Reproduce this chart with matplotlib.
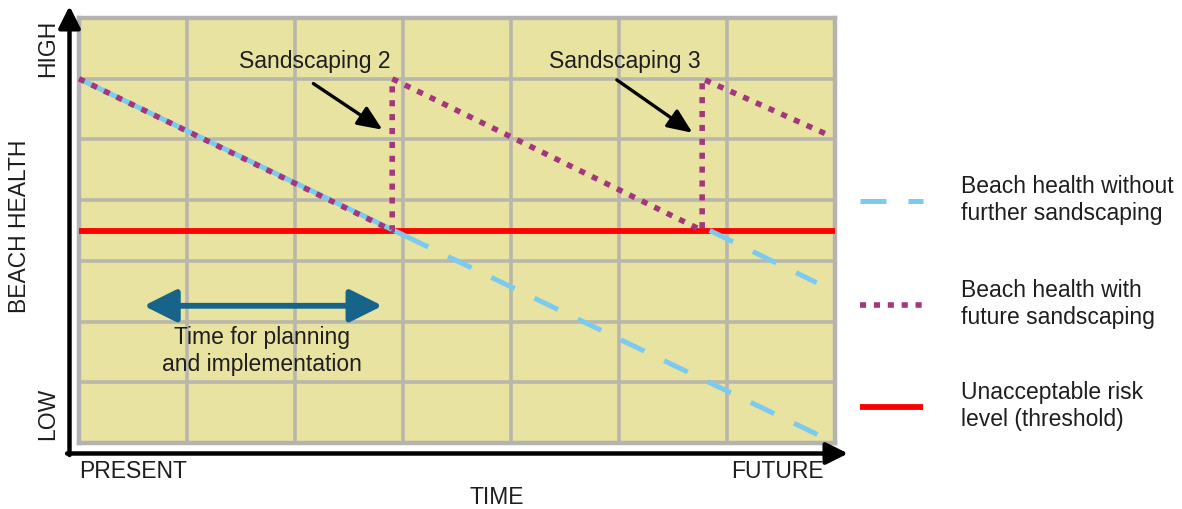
import numpy as np
import matplotlib
matplotlib.use("Agg")
import matplotlib.pyplot as plt
from matplotlib.lines import Line2D

plt.rcParams['font.family'] = ['Liberation Sans', 'DejaVu Sans']

# ---- data (time units 0..7, health units 0..7) ----
threshold = 3.5
time_no_sand = [0.0, 7.0]
health_no_sand = [6.0, 0.0]
time_no_sand2 = [5.84, 6.83]
health_no_sand2 = [3.5, 2.64]
time_sand = [0.0, 2.9, 2.9, 5.77, 5.77, 6.93]
health_sand = [6.0, 3.5, 6.0, 3.5, 6.0, 5.08]
grid_ticks = [0, 1, 2, 3, 4, 5, 6, 7]
event_labels = ["Sandscaping 2", "Sandscaping 3"]
event_text_x = [2.18, 5.05]
event_text_y = [6.28, 6.28]
event_arrow_from = [(2.17, 5.92), (4.98, 5.98)]
event_arrow_to = [(2.81, 5.16), (5.68, 5.11)]
planning_span = [0.6, 2.81]
planning_y = 2.26
legend_labels = ["Beach health without\nfurther sandscaping",
                 "Beach health with\nfuture sandscaping",
                 "Unacceptable risk\nlevel (threshold)"]

# ---- styles ----
W, H = 1182, 509
BLUE = '#7ccbee'
PURPLE = '#a3367c'
RED = '#ff0000'
TEAL = '#17648a'
YELLOW = '#e9e3a1'
GRIDC = '#b9b7ab'
TXT = '#1e1e1e'
FS = 16.5

fig = plt.figure(figsize=(W / 100, H / 100), dpi=100)
fig.patch.set_facecolor('white')

x0, x1, ytop, ybot = 79, 835, 18, 443
ax = fig.add_axes([x0 / W, (H - ybot) / H, (x1 - x0) / W, (ybot - ytop) / H])
ax.set_xlim(grid_ticks[0], grid_ticks[-1])
ax.set_ylim(grid_ticks[0], grid_ticks[-1])
ax.set_facecolor(YELLOW)
ax.set_xticks(grid_ticks)
ax.set_yticks(grid_ticks)
ax.tick_params(length=0, labelbottom=False, labelleft=False)
ax.grid(True, color=GRIDC, lw=2.6)
ax.set_axisbelow(True)
for s in ax.spines.values():
    s.set_color('#b3b3b0')
    s.set_linewidth(3.2)

lw_line = 3.6
lw_dot = 4.0
dot_pat = (1.1, 1.4)
dash_pat = (5.2, 4.4)
# threshold
ax.axhline(threshold, color=RED, lw=4.2, zorder=3, solid_capstyle='butt')

# blue without sandscaping: solid under purple portion, dashed after threshold crossing
xc = np.interp(threshold, health_no_sand[::-1], time_no_sand[::-1])
xs = xc + 0.1
ys = np.interp(xs, time_no_sand, health_no_sand)
ax.plot([time_no_sand[0], xs], [health_no_sand[0], ys],
        color=BLUE, lw=lw_line, solid_capstyle='butt', zorder=4, clip_on=False)
ax.plot([xs, time_no_sand[1]], [ys, health_no_sand[1]],
        color=BLUE, lw=lw_line, dashes=dash_pat, dash_capstyle='butt', zorder=4, clip_on=False)
ax.plot(time_no_sand2, health_no_sand2, color=BLUE, lw=lw_line, dashes=dash_pat,
        dash_capstyle='butt', zorder=4, clip_on=False)

# purple with sandscaping
ax.plot(time_sand, health_sand, color=PURPLE, lw=lw_dot, dashes=dot_pat,
        dash_capstyle='butt', zorder=5, clip_on=False)

# event annotations
for lab, tx, ty, p0, p1 in zip(event_labels, event_text_x, event_text_y, event_arrow_from, event_arrow_to):
    ax.text(tx, ty, lab, ha='center', va='center', fontsize=FS, color=TXT, zorder=6)
    ax.annotate('', xy=p1, xytext=p0,
                arrowprops=dict(arrowstyle='-|>,head_length=0.75,head_width=0.32',
                                color='black', lw=2.4, mutation_scale=20,
                                shrinkA=0, shrinkB=0), zorder=6)

# planning arrow
ax.annotate('', xy=(planning_span[0], planning_y), xytext=(planning_span[1], planning_y),
            arrowprops=dict(arrowstyle='<|-|>,head_length=0.9,head_width=0.45',
                            color=TEAL, lw=4.2, mutation_scale=22,
                            shrinkA=0, shrinkB=0), zorder=6)
ax.text(np.mean(planning_span) - 0.01, planning_y - 0.74, "Time for planning\nand implementation",
        ha='center', va='center', fontsize=FS, color=TXT, linespacing=1.22, zorder=6)

# ---- axis arrows (figure pixels, origin at bottom) ----
def fp(x, y):
    return (x, H - y)

fig.add_artist(matplotlib.patches.FancyArrowPatch(
    fp(69.5, 455), fp(69.5, 6), transform=None,
    arrowstyle='-|>,head_length=0.6,head_width=0.3', mutation_scale=22,
    color='black', lw=3.2, shrinkA=0, shrinkB=0))
fig.add_artist(matplotlib.patches.FancyArrowPatch(
    fp(67, 453.5), fp(848, 453.5), transform=None,
    arrowstyle='-|>,head_length=0.6,head_width=0.3', mutation_scale=22,
    color='black', lw=3.2, shrinkA=0, shrinkB=0))

def ftext(x, y, s, **kw):
    fig.text(x / W, 1 - y / H, s, fontsize=FS, color=TXT, **kw)

ftext(48, 48, "HIGH", rotation=90, ha='center', va='center')
ftext(20, 226, "BEACH HEALTH", rotation=90, ha='center', va='center')
ftext(48, 414, "LOW", rotation=90, ha='center', va='center')
ftext(79, 472, "PRESENT", ha='left', va='center')
ftext(824, 472, "FUTURE", ha='right', va='center')
ftext(497, 497, "TIME", ha='center', va='center')

# ---- legend (manual) ----
leg_y = [201, 305, 407]
leg_styles = [dict(color=BLUE, lw=lw_line, dashes=dash_pat, dash_capstyle='butt'),
              dict(color=PURPLE, lw=lw_dot, dashes=dot_pat, dash_capstyle='butt'),
              dict(color=RED, lw=4.2, solid_capstyle='butt')]
for yy, st, lab in zip(leg_y, leg_styles, legend_labels):
    fig.add_artist(Line2D([860 / W, 923 / W], [1 - yy / H, 1 - yy / H], **st))
    ftext(961, yy - 1, lab, ha='left', va='center', linespacing=1.22)

fig.savefig('out.png', dpi=100, facecolor='white')
